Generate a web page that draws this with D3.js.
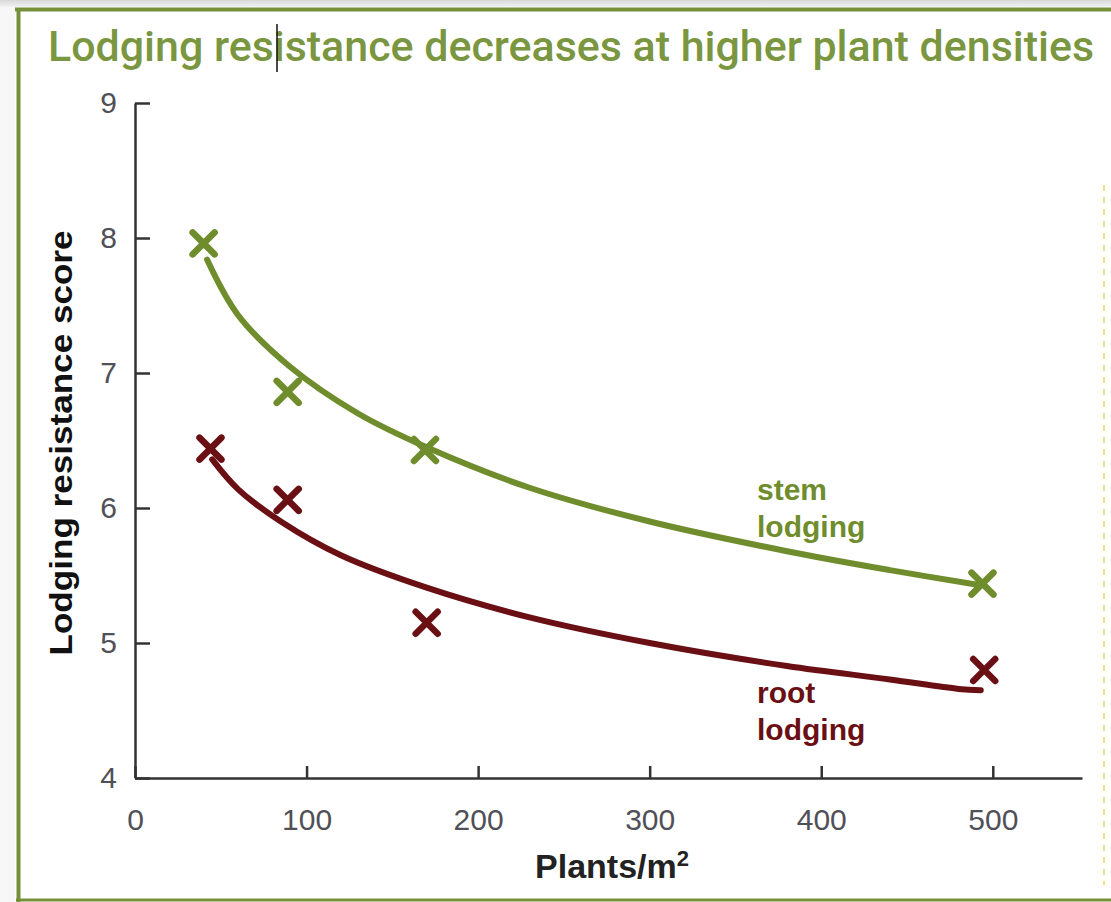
<!DOCTYPE html>
<html>
<head>
<meta charset="utf-8">
<script src="https://cdn.jsdelivr.net/npm/d3@7"></script>
<style>
  body { margin: 0; background: #fff; }
  svg { display: block; }
</style>
</head>
<body>
<div id="chart"></div>
<script>
// values
var title = "Lodging resistance decreases at higher plant densities";
var xLabel = "Plants/m";
var yLabel = "Lodging resistance score";
var xTicks = [0, 100, 200, 300, 400, 500];
var yTicks = [4, 5, 6, 7, 8, 9];
var xMax = 552;

// measured points (x marks)
var stemX = [40, 89, 169, 494];
var stemY = [7.96, 6.86, 6.43, 5.44];
var rootX = [44, 89, 170, 495];
var rootY = [6.44, 6.06, 5.15, 4.80];

// fitted curves
var stemCurveX = [42, 60, 90, 130, 170, 230, 300, 380, 440, 492];
var stemCurveY = [7.84, 7.43, 7.05, 6.70, 6.45, 6.15, 5.90, 5.68, 5.54, 5.43];
var rootCurveX = [45, 60, 85, 120, 170, 230, 300, 380, 440, 480, 493];
var rootCurveY = [6.36, 6.14, 5.90, 5.65, 5.41, 5.19, 5.00, 4.83, 4.73, 4.66, 4.65];

var green = "#6f8d2c", red = "#6a1015", frame = "#76903a";

var width = 1111, height = 902;
var svg = d3.select("#chart").append("svg")
    .attr("width", width)
    .attr("height", height);

// scanned page frame
var defs = svg.append("defs");
var grad = defs.append("linearGradient").attr("id", "shade")
    .attr("x1", 0).attr("y1", 0).attr("x2", 0).attr("y2", 1);
grad.append("stop").attr("offset", 0).attr("stop-color", "#d8d8d8");
grad.append("stop").attr("offset", 1).attr("stop-color", "#f2f2f2");
svg.append("rect").attr("x", 0).attr("y", 0).attr("width", width).attr("height", 7)
    .attr("fill", "url(#shade)");
svg.append("rect").attr("x", 0).attr("y", 7).attr("width", 15).attr("height", height - 7)
    .attr("fill", "#f7f7f7");
svg.append("line").attr("x1", 15).attr("x2", width).attr("y1", 9.5).attr("y2", 9.5)
    .attr("stroke", frame).attr("stroke-width", 4);
svg.append("line").attr("x1", 18.5).attr("x2", 18.5).attr("y1", 8).attr("y2", height)
    .attr("stroke", frame).attr("stroke-width", 4);
svg.append("line").attr("x1", 16).attr("x2", width).attr("y1", 900).attr("y2", 900)
    .attr("stroke", frame).attr("stroke-width", 3);
svg.append("line").attr("x1", 1104).attr("x2", 1104).attr("y1", 185).attr("y2", 885)
    .attr("stroke", "#f3dc8c").attr("stroke-width", 2).attr("stroke-dasharray", "6,6");

svg.append("text")
    .attr("x", 48).attr("y", 61)
    .attr("textLength", 1046).attr("lengthAdjust", "spacingAndGlyphs")
    .style("font-family", "Roboto, 'Liberation Sans', sans-serif")
    .style("font-size", "42px").style("font-weight", 500)
    .attr("fill", "#7a9640")
    .text(title);
// text cursor from the screenshot
svg.append("line").attr("x1", 277).attr("x2", 277).attr("y1", 24).attr("y2", 72)
    .attr("stroke", "#111").attr("stroke-width", 1.5);

var x = d3.scaleLinear().domain([0, xMax]).range([135, 1082]);
var y = d3.scaleLinear().domain([4, 9]).range([778, 103]);

var xAxis = d3.axisBottom(x).tickValues(xTicks).tickSizeInner(-12).tickSizeOuter(0).tickPadding(31);
var yAxis = d3.axisLeft(y).tickValues(yTicks).tickFormat(d3.format("d"))
    .tickSizeInner(-15).tickSizeOuter(0).tickPadding(18);

var gX = svg.append("g").attr("transform", "translate(0," + y(4) + ")").call(xAxis);
var gY = svg.append("g").attr("transform", "translate(" + x(0) + ",0)").call(yAxis);

[gX, gY].forEach(function (g) {
    g.select(".domain").attr("stroke", "#333").attr("stroke-width", 2.5);
    g.selectAll(".tick line").attr("stroke", "#333").attr("stroke-width", 2.5);
    g.selectAll(".tick text")
        .attr("fill", "#505058")
        .style("font-family", "'Liberation Sans', Arial, sans-serif")
        .style("font-size", "30px");
});

svg.append("text")
    .attr("transform", "translate(72," + 443 + ") rotate(-90)")
    .attr("text-anchor", "middle")
    .attr("textLength", 425).attr("lengthAdjust", "spacingAndGlyphs")
    .style("font-family", "'Liberation Sans', Arial, sans-serif")
    .style("font-size", "32px").style("font-weight", "bold")
    .attr("fill", "#111")
    .text(yLabel);

var xl = svg.append("text")
    .attr("x", 612).attr("y", 878)
    .attr("text-anchor", "middle")
    .style("font-family", "'Liberation Sans', Arial, sans-serif")
    .style("font-size", "34px").style("font-weight", "bold")
    .attr("fill", "#222")
    .text(xLabel);
xl.append("tspan").attr("dy", -12).style("font-size", "22px").text("2");

var line = d3.line()
    .x(function (d) { return x(d[0]); })
    .y(function (d) { return y(d[1]); })
    .curve(d3.curveCatmullRom);

var series = [
    {name: ["stem", "lodging"], color: green, px: stemX, py: stemY, cx: stemCurveX, cy: stemCurveY, lx: 757, ly: 500},
    {name: ["root", "lodging"], color: red, px: rootX, py: rootY, cx: rootCurveX, cy: rootCurveY, lx: 757, ly: 703}
];

series.forEach(function (s) {
    svg.append("path")
        .datum(d3.zip(s.cx, s.cy))
        .attr("fill", "none")
        .attr("stroke", s.color)
        .attr("stroke-width", 6)
        .attr("stroke-linecap", "round")
        .attr("d", line);

    var r = 11;
    svg.append("g").selectAll("path")
        .data(d3.zip(s.px, s.py))
        .enter().append("path")
        .attr("transform", function (d) { return "translate(" + x(d[0]) + "," + y(d[1]) + ")"; })
        .attr("d", "M" + (-r) + "," + (-r) + "L" + r + "," + r + "M" + (-r) + "," + r + "L" + r + "," + (-r))
        .attr("stroke", s.color)
        .attr("stroke-width", 6.5)
        .attr("stroke-linecap", "round");

    var t = svg.append("text")
        .attr("x", s.lx).attr("y", s.ly)
        .style("font-family", "'Liberation Sans', Arial, sans-serif")
        .style("font-size", "30px").style("font-weight", "bold")
        .attr("fill", s.color);
    t.append("tspan").attr("x", s.lx).text(s.name[0]);
    t.append("tspan").attr("x", s.lx).attr("dy", 37).text(s.name[1]);
});
</script>
</body>
</html>
